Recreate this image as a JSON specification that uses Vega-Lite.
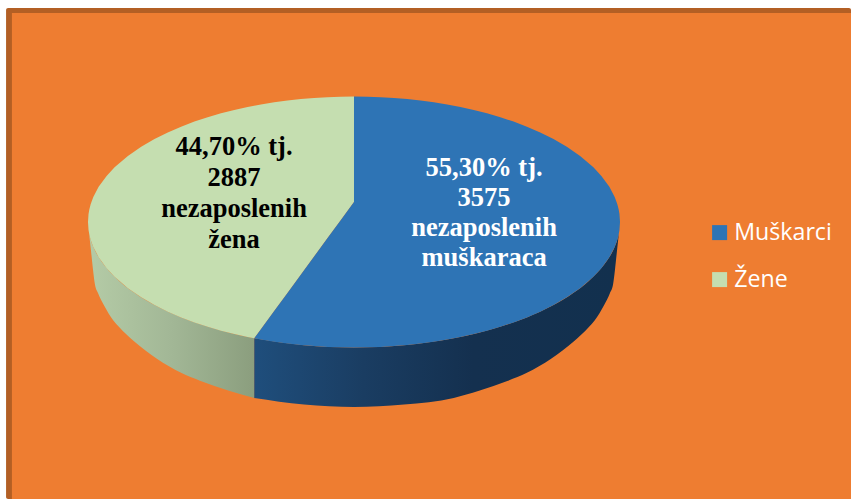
{"$schema":"https://vega.github.io/schema/vega-lite/v6.json","autosize":{"type":"fit","contains":"padding"},"width":851,"height":499,"padding":0,"background":"#ffffff","config":{"view":{"stroke":null}},
"datasets":{
"frame":[{"x":-130.8,"x2":186.84,"y":170.5,"y2":-220.7,"part":"border"},{"x":-128.6,"x2":186.84,"y":166.5,"y2":-220.7,"part":"fill"}],
"wallGreen":[{"x":-99.6,"top":-8.9,"low":-8.9},{"x":-98.9,"top":-14.8,"low":-22.3},{"x":-98.1,"top":-19.4,"low":-38.2},{"x":-97.4,"top":-22.7,"low":-49.6},{"x":-96.2,"top":-27.3,"low":-56.8},{"x":-94,"top":-34.1,"low":-66.3},{"x":-90.6,"top":-42.3,"low":-78},{"x":-88.3,"top":-46.9,"low":-83.7},{"x":-82.7,"top":-56.2,"low":-95},{"x":-74.1,"top":-67.2,"low":-109},{"x":-65,"top":-76,"low":-120.2},{"x":-57.9,"top":-81.5,"low":-126.5},{"x":-47,"top":-88.3,"low":-134.5},{"x":-37.5,"top":-92.7,"low":-140.2}],
"wallBlue":[{"x":-37.5,"top":-92.7,"low":-140.2},{"x":-18.8,"top":-98.2,"low":-145.4},{"x":0,"top":-100,"low":-147.4},{"x":18.8,"top":-98.2,"low":-145.4},{"x":37.5,"top":-92.7,"low":-140.2},{"x":47,"top":-88.3,"low":-134.5},{"x":57.9,"top":-81.5,"low":-126.5},{"x":65,"top":-76,"low":-120.2},{"x":74.1,"top":-67.2,"low":-109},{"x":82.7,"top":-56.2,"low":-95},{"x":88.3,"top":-46.9,"low":-83.7},{"x":90.6,"top":-42.3,"low":-78},{"x":94,"top":-34.1,"low":-66.3},{"x":96.2,"top":-27.3,"low":-56.8},{"x":97.4,"top":-22.7,"low":-49.6},{"x":98.1,"top":-19.4,"low":-38.2},{"x":98.9,"top":-14.8,"low":-22.3},{"x":99.6,"top":-8.9,"low":-8.9}],
"slices":[
{"c":"Žene","x":-100,"t":0,"b":0},{"c":"Žene","x":-99.8,"t":6.3,"b":-6.3},{"c":"Žene","x":-99.5,"t":10,"b":-10},{"c":"Žene","x":-99,"t":14.1,"b":-14.1},{"c":"Žene","x":-98,"t":19.9,"b":-19.9},{"c":"Žene","x":-96,"t":28,"b":-28},{"c":"Žene","x":-93,"t":36.75,"b":-36.75},{"c":"Žene","x":-90,"t":43.59,"b":-43.59},{"c":"Žene","x":-85,"t":52.68,"b":-52.68},{"c":"Žene","x":-80,"t":60,"b":-60},{"c":"Žene","x":-75,"t":66.14,"b":-66.14},{"c":"Žene","x":-70,"t":71.41,"b":-71.41},{"c":"Žene","x":-65,"t":75.99,"b":-75.99},{"c":"Žene","x":-60,"t":80,"b":-80},{"c":"Žene","x":-55,"t":83.52,"b":-83.52},{"c":"Žene","x":-50,"t":86.6,"b":-86.6},{"c":"Žene","x":-45,"t":89.3,"b":-89.3},{"c":"Žene","x":-40,"t":91.65,"b":-91.65},{"c":"Žene","x":-37.5,"t":92.7,"b":-92.7},{"c":"Žene","x":-35,"t":93.67,"b":-85.5},{"c":"Žene","x":-30,"t":95.39,"b":-71},{"c":"Žene","x":-25,"t":96.82,"b":-56.5},{"c":"Žene","x":-20,"t":97.98,"b":-42},{"c":"Žene","x":-15,"t":98.87,"b":-27.5},{"c":"Žene","x":-10,"t":99.5,"b":-13},{"c":"Žene","x":-5,"t":99.87,"b":1.5},{"c":"Žene","x":0,"t":100,"b":16},
{"c":"Muškarci","x":-37.5,"t":-92.7,"b":-92.7},{"c":"Muškarci","x":-35,"t":-85.5,"b":-93.67},{"c":"Muškarci","x":-30,"t":-71,"b":-95.39},{"c":"Muškarci","x":-25,"t":-56.5,"b":-96.82},{"c":"Muškarci","x":-20,"t":-42,"b":-97.98},{"c":"Muškarci","x":-15,"t":-27.5,"b":-98.87},{"c":"Muškarci","x":-10,"t":-13,"b":-99.5},{"c":"Muškarci","x":-5,"t":1.5,"b":-99.87},{"c":"Muškarci","x":0,"t":16,"b":-100},{"c":"Muškarci","x":0,"t":100,"b":-100},{"c":"Muškarci","x":5,"t":99.87,"b":-99.87},{"c":"Muškarci","x":10,"t":99.5,"b":-99.5},{"c":"Muškarci","x":15,"t":98.87,"b":-98.87},{"c":"Muškarci","x":20,"t":97.98,"b":-97.98},{"c":"Muškarci","x":25,"t":96.82,"b":-96.82},{"c":"Muškarci","x":30,"t":95.39,"b":-95.39},{"c":"Muškarci","x":35,"t":93.67,"b":-93.67},{"c":"Muškarci","x":40,"t":91.65,"b":-91.65},{"c":"Muškarci","x":45,"t":89.3,"b":-89.3},{"c":"Muškarci","x":50,"t":86.6,"b":-86.6},{"c":"Muškarci","x":55,"t":83.52,"b":-83.52},{"c":"Muškarci","x":60,"t":80,"b":-80},{"c":"Muškarci","x":65,"t":75.99,"b":-75.99},{"c":"Muškarci","x":70,"t":71.41,"b":-71.41},{"c":"Muškarci","x":75,"t":66.14,"b":-66.14},{"c":"Muškarci","x":80,"t":60,"b":-60},{"c":"Muškarci","x":85,"t":52.68,"b":-52.68},{"c":"Muškarci","x":90,"t":43.59,"b":-43.59},{"c":"Muškarci","x":93,"t":36.75,"b":-36.75},{"c":"Muškarci","x":96,"t":28,"b":-28},{"c":"Muškarci","x":98,"t":19.9,"b":-19.9},{"c":"Muškarci","x":99,"t":14.1,"b":-14.1},{"c":"Muškarci","x":99.5,"t":10,"b":-10},{"c":"Muškarci","x":99.8,"t":6.3,"b":-6.3},{"c":"Muškarci","x":100,"t":0,"b":0}],
"labelM":[{"c":"Muškarci","share":55.3,"count":3575,"label":"55,30% tj.|3575|nezaposlenih|muškaraca","x":48.9,"y":43}],
"labelZ":[{"c":"Žene","share":44.7,"count":2887,"label":"44,70% tj.|2887|nezaposlenih|žena","x":-45.1,"y":59.8}]
},
"encoding":{
"x":{"field":"x","type":"quantitative","axis":null,"scale":{"domain":[-133.08,186.84],"nice":false,"zero":false}},
"y":{"field":"y","type":"quantitative","axis":null,"scale":{"domain":[-220.7,176.9],"nice":false,"zero":false}}
},
"layer":[
{"data":{"name":"frame"},"transform":[{"filter":"datum.part==='border'"}],"mark":{"type":"rect","color":"#B35F24","cornerRadius":2},"encoding":{"x2":{"field":"x2"},"y2":{"field":"y2"}}},
{"data":{"name":"frame"},"transform":[{"filter":"datum.part==='fill'"}],"mark":{"type":"rect","color":"#EE7D31"},"encoding":{"x2":{"field":"x2"},"y2":{"field":"y2"}}},
{"data":{"name":"wallGreen"},"mark":{"type":"area","interpolate":"monotone","color":{"gradient":"linear","x1":0,"x2":1,"y1":0,"y2":0,"stops":[{"offset":0,"color":"#B4CBA6"},{"offset":0.5,"color":"#A2B796"},{"offset":1,"color":"#8B9E7E"}]}},"encoding":{"y":{"field":"low","type":"quantitative","stack":null,"axis":null,"scale":{"domain":[-220.7,176.9],"nice":false,"zero":false}},"y2":{"field":"top"}}},
{"data":{"name":"wallBlue"},"mark":{"type":"area","interpolate":"monotone","color":{"gradient":"linear","x1":0,"x2":1,"y1":0,"y2":0,"stops":[{"offset":0,"color":"#1F4E7C"},{"offset":0.3,"color":"#1A3D62"},{"offset":0.6,"color":"#14304F"},{"offset":1,"color":"#12304E"}]}},"encoding":{"y":{"field":"low","type":"quantitative","stack":null,"axis":null,"scale":{"domain":[-220.7,176.9],"nice":false,"zero":false}},"y2":{"field":"top"}}},
{"data":{"name":"slices"},"mark":{"type":"area","interpolate":"linear"},"encoding":{"y":{"field":"t","type":"quantitative","stack":null,"axis":null,"scale":{"domain":[-220.7,176.9],"nice":false,"zero":false}},"y2":{"field":"b"},"color":{"field":"c","type":"nominal","scale":{"domain":["Muškarci","Žene"],"range":["#2E74B5","#C5DEB0"]},"legend":{"title":null,"orient":"none","legendX":708,"legendY":221,"padding":0,"symbolType":"square","symbolSize":225,"symbolStrokeWidth":0,"labelFont":"Open Sans","labelFontSize":23.2,"labelColor":"#ffffff","labelOffset":3,"rowPadding":23,"labelLimit":200}}}},
{"data":{"name":"labelM"},"mark":{"type":"text","font":"Liberation Serif","fontWeight":"bold","fontSize":26.5,"color":"#ffffff","lineBreak":"|","lineHeight":30,"align":"center","baseline":"middle"},"encoding":{"text":{"field":"label"}}},
{"data":{"name":"labelZ"},"mark":{"type":"text","font":"Liberation Serif","fontWeight":"bold","fontSize":26.5,"color":"#000000","lineBreak":"|","lineHeight":31,"align":"center","baseline":"middle"},"encoding":{"text":{"field":"label"}}}
]}
